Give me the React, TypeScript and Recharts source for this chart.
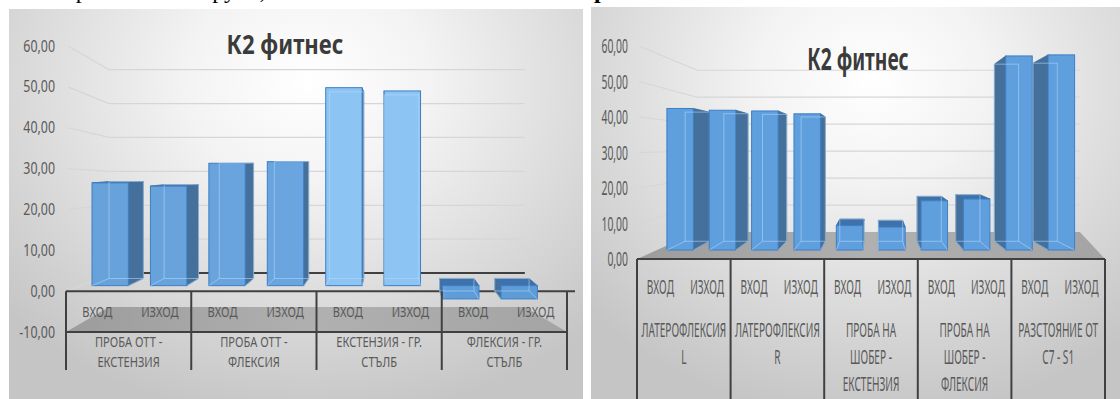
import React from 'react';
import { BarChart, Bar, XAxis, YAxis, CartesianGrid } from 'recharts';

const TITLE = 'К2 фитнес';
const PHASES = ['ВХОД', 'ИЗХОД'];

const LEFT_GROUPS = ['ПРОБА ОТТ -\nЕКСТЕНЗИЯ', 'ПРОБА ОТТ -\nФЛЕКСИЯ', 'ЕКСТЕНЗИЯ - ГР.\nСТЪЛБ', 'ФЛЕКСИЯ - ГР.\nСТЪЛБ'];
const LEFT_VALUES = [26.5, 25.7, 31.3, 31.7, 49.8, 49.0, -1.9, -1.9];
const LEFT_TICKS = [-10, 0, 10, 20, 30, 40, 50, 60];

const RIGHT_GROUPS = [
  'ЛАТЕРОФЛЕКСИЯ\nL',
  'ЛАТЕРОФЛЕКСИЯ\nR',
  'ПРОБА НА\nШОБЕР -\nЕКСТЕНЗИЯ',
  'ПРОБА НА\nШОБЕР -\nФЛЕКСИЯ',
  'РАЗСТОЯНИЕ ОТ\nC7 - S1',
];
const RIGHT_VALUES = [42.4, 41.9, 41.7, 40.9, 9.4, 9.0, 16.4, 16.9, 57.2, 57.5];
const RIGHT_TICKS = [0, 10, 20, 30, 40, 50, 60];

const FONT = "'Noto Sans', 'DejaVu Sans', sans-serif";
const TEXT = '#595959';
const LINE = '#404040';
const PANEL_BG =
  'radial-gradient(ellipse 72% 85% at 52% 18%, #ffffff 0%, #f3f3f3 30%, #dcdcdc 65%, #c5c5c5 100%)';

// layout of each chart (page pixels) + a rough perspective to fake the excel 3d look
const LEFT_CFG = {
  id: 'l',
  groups: LEFT_GROUPS,
  values: LEFT_VALUES,
  ticks: LEFT_TICKS,
  domain: [-10, 60] as [number, number],
  plot: { left: 66, right: 567, top: 46, bottom: 332 },
  yLabelRight: 55,
  yFont: 15.5,
  yScale: 0.8,
  catFont: 15,
  catScale: 0.74,
  subY: 312,
  groupY: 342,
  lineH: 19.5,
  tableBottom: 370,
  barSize: 39,
  front: { vx: 287, s: 0.933 },
  back: { vx: 391, vy: 160, r: 0.943 },
  lift: 5.5,
  wall: { vx: 319, vy: 185, sx: 0.83, sy: 0.83 },
  zeroLine: true,
  lit: true,
};

const RIGHT_CFG = {
  id: 'r',
  groups: RIGHT_GROUPS,
  values: RIGHT_VALUES,
  ticks: RIGHT_TICKS,
  domain: [0, 60] as [number, number],
  plot: { left: 637, right: 1105, top: 46, bottom: 259 },
  yLabelRight: 628,
  yFont: 20,
  yScale: 0.52,
  catFont: 19,
  catScale: 0.53,
  subY: 287,
  groupY: 330,
  lineH: 27,
  tableBottom: 400,
  barSize: 29.3,
  front: { vx: 866, s: 0.905 },
  back: { vx: 876, vy: 150, r: 0.9126 },
  lift: 9,
  wall: { vx: 967, vy: 147, sx: 0.818, sy: 0.76 },
  zeroLine: false,
  lit: false,
};

type Cfg = typeof LEFT_CFG;

function fmt(v: number) {
  return v.toFixed(2).replace('.', ',');
}

function yOf(cfg: Cfg, v: number) {
  const [lo, hi] = cfg.domain;
  return cfg.plot.top + ((hi - v) / (hi - lo)) * (cfg.plot.bottom - cfg.plot.top);
}

function CondText({ x, y, size, scale, anchor = 'middle', children }: any) {
  return (
    <text
      transform={`translate(${x},${y + size * 0.36}) scale(${scale},1)`}
      textAnchor={anchor}
      fontSize={size}
      fontFamily={FONT}
      fill={TEXT}
    >
      {children}
    </text>
  );
}

// back wall gridline, bent like the excel 3d wall
function WallLine(props: any) {
  const { x1, x2, y1, cfg } = props;
  const w = cfg.wall;
  const bx1 = w.vx + w.sx * (x1 - w.vx);
  const bx2 = w.vx + w.sx * (x2 - w.vx);
  const by = w.vy + w.sy * (y1 - w.vy);
  if (Math.abs(y1 - cfg.plot.bottom) < 1) {
    return (
      <polygon
        key={props.key}
        points={`${x1},${y1} ${bx1},${by} ${bx2},${by} ${x2},${y1}`}
        fill={`url(#floor-${cfg.id})`}
      />
    );
  }
  const isZero = cfg.zeroLine && Math.abs(y1 - yOf(cfg, 0)) < 1;
  return (
    <g key={props.key}>
      <polyline
        points={`${x1 + 2},${y1} ${bx1},${by} ${bx2},${by}`}
        fill="none"
        stroke="#d6d6d6"
        strokeWidth={1.2}
      />
      {isZero && (
        <>
          <line x1={bx1} y1={by} x2={bx2} y2={by} stroke={LINE} strokeWidth={2} />
          <line x1={x1} y1={y1} x2={x2 + 8} y2={y1} stroke={LINE} strokeWidth={2} />
        </>
      )}
    </g>
  );
}

function Box3D(props: any) {
  const { x, y, width, height, cfg, payload } = props;
  const v = typeof payload?.value === 'number' ? payload.value : props.value;
  const a = y;
  const b = y + height;
  const y0 = v >= 0 ? Math.max(a, b) : Math.min(a, b);
  const yv = v >= 0 ? Math.min(a, b) : Math.max(a, b);
  const base = y0 - cfg.lift;
  const top = Math.min(yv, base);
  const bot = Math.max(yv, base);

  const fx = (px: number) => cfg.front.vx + cfg.front.s * (px - cfg.front.vx);
  const l = fx(x);
  const r = fx(x + width);
  const bx = (px: number) => cfg.back.vx + cfg.back.r * (px - cfg.back.vx);
  const by = (py: number) => cfg.back.vy + cfg.back.r * (py - cfg.back.vy);
  const bl = bx(l);
  const br = bx(r);
  const bt = by(top);
  const bb = by(bot);

  const side =
    br > r
      ? `${r},${top} ${br},${bt} ${br},${bb} ${r},${bot}`
      : `${l},${top} ${bl},${bt} ${bl},${bb} ${l},${bot}`;
  const showTop = bt < top - 0.5;
  const fill = cfg.lit ? `url(#face-${cfg.id})` : '#5f9fdd';

  return (
    <g>
      <polygon points={side} fill="#45709b" stroke="#3b6a98" strokeWidth={0.8} />
      {showTop && (
        <polygon
          points={`${l},${top} ${bl},${bt} ${br},${bt} ${r},${top}`}
          fill="#3f72aa"
          stroke="#3b6a98"
          strokeWidth={0.8}
        />
      )}
      <rect x={l} y={top} width={r - l} height={bot - top} fill={fill} stroke="#3d7ec6" strokeWidth={1} />
      <g stroke="rgba(185,218,248,0.55)" strokeWidth={1} fill="none">
        <rect x={Math.min(bl, br)} y={Math.min(bt, bb)} width={Math.abs(br - bl)} height={Math.abs(bb - bt)} />
        <line x1={l} y1={bot} x2={bl} y2={bb} />
        <line x1={r} y1={bot} x2={br} y2={bb} />
      </g>
    </g>
  );
}

function CatTick(props: any) {
  const { x, payload, cfg, slot, zeroY, n } = props;
  const i = Number(payload.value);
  const g = Math.floor(i / 2);
  const sep = (sx: number) => (
    <line x1={sx} y1={zeroY} x2={sx} y2={cfg.tableBottom} stroke={LINE} strokeWidth={2} />
  );
  return (
    <g>
      <CondText x={x} y={cfg.subY} size={cfg.catFont} scale={cfg.catScale}>
        {PHASES[i % 2]}
      </CondText>
      {i % 2 === 0 && sep(x - slot / 2)}
      {i % 2 === 0 &&
        cfg.groups[g].split('\n').map((line: string, k: number) => (
          <CondText key={k} x={x + slot / 2} y={cfg.groupY + k * cfg.lineH} size={cfg.catFont} scale={cfg.catScale}>
            {line}
          </CondText>
        ))}
      {i === n - 1 && sep(x + slot / 2)}
    </g>
  );
}

function ValueTick(props: any) {
  const { y, payload, cfg } = props;
  return (
    <CondText x={cfg.yLabelRight} y={y} size={cfg.yFont} scale={cfg.yScale} anchor="end">
      {fmt(payload.value)}
    </CondText>
  );
}

function Chart3D({ cfg }: { cfg: Cfg }) {
  const data = cfg.values.map((v, i) => ({ key: String(i), value: v }));
  const slot = (cfg.plot.right - cfg.plot.left) / data.length;
  const zeroY = yOf(cfg, 0);
  return (
    <BarChart
      width={1120}
      height={399}
      data={data}
      margin={{
        top: cfg.plot.top,
        right: 1120 - cfg.plot.right,
        bottom: 399 - cfg.plot.bottom - 60,
        left: cfg.plot.left - 60,
      }}
    >
      <defs>
        <linearGradient id={`face-${cfg.id}`} gradientUnits="userSpaceOnUse" x1={cfg.plot.left} x2={cfg.plot.right} y1={0} y2={0}>
          <stop offset="0" stopColor="#66a1da" />
          <stop offset="0.49" stopColor="#6aa5df" />
          <stop offset="0.52" stopColor="#8cc4f4" />
          <stop offset="0.72" stopColor="#8cc4f4" />
          <stop offset="0.76" stopColor="#5f9dda" />
          <stop offset="1" stopColor="#5b9bd5" />
        </linearGradient>
        <linearGradient id={`floor-${cfg.id}`} x1="0" x2="1" y1="0" y2="0">
          <stop offset="0" stopColor="#9c9c9c" />
          <stop offset="0.5" stopColor="#b0b0b0" />
          <stop offset="1" stopColor="#a4a4a4" />
        </linearGradient>
      </defs>
      <CartesianGrid vertical={false} horizontal={(p: any) => <WallLine {...p} key={p.key} cfg={cfg} />} />
      <XAxis
        dataKey="key"
        height={60}
        interval={0}
        tickLine={false}
        axisLine={{ stroke: LINE, strokeWidth: 2 }}
        tick={(p: any) => <CatTick {...p} cfg={cfg} slot={slot} zeroY={zeroY} n={data.length} />}
      />
      <YAxis
        width={60}
        domain={cfg.domain}
        ticks={cfg.ticks}
        interval={0}
        axisLine={false}
        tickLine={false}
        tick={(p: any) => <ValueTick {...p} cfg={cfg} />}
      />
      <Bar
        dataKey="value"
        barSize={cfg.barSize}
        isAnimationActive={false}
        shape={(p: any) => <Box3D {...p} cfg={cfg} />}
      />
    </BarChart>
  );
}

export default function App() {
  return (
    <div
      style={{
        position: 'fixed',
        left: 0,
        top: 0,
        width: 1120,
        height: 399,
        overflow: 'hidden',
        background: '#fff',
      }}
    >
      <div style={{ position: 'absolute', left: 9, top: 9, width: 574, height: 400, background: PANEL_BG }} />
      <div style={{ position: 'absolute', left: 591, top: 7, width: 540, height: 400, background: PANEL_BG }} />
      <div style={{ position: 'absolute', left: 0, top: 0 }}>
        <Chart3D cfg={LEFT_CFG} />
      </div>
      <div style={{ position: 'absolute', left: 0, top: 0 }}>
        <Chart3D cfg={RIGHT_CFG} />
      </div>
      <svg style={{ position: 'absolute', left: 0, top: 0 }} width={1120} height={399}>
        {/* caption above the charts, cut off by the crop */}
        <text x={16} y={-2} fontFamily="'Liberation Serif', serif" fontSize={24} fill="#000">
          Експериментална група,
          <tspan x={583} fontWeight="bold">
            гръбначен стълб
          </tspan>
        </text>
        <text
          transform="translate(285,54) scale(0.82,1)"
          textAnchor="middle"
          fontFamily={FONT}
          fontWeight="bold"
          fontSize={27}
          fill="#3b3b3b"
        >
          {TITLE}
        </text>
        <text
          transform="translate(858,70) scale(0.64,1)"
          textAnchor="middle"
          fontFamily={FONT}
          fontWeight="bold"
          fontSize={30}
          fill="#3b3b3b"
        >
          {TITLE}
        </text>
      </svg>
    </div>
  );
}
